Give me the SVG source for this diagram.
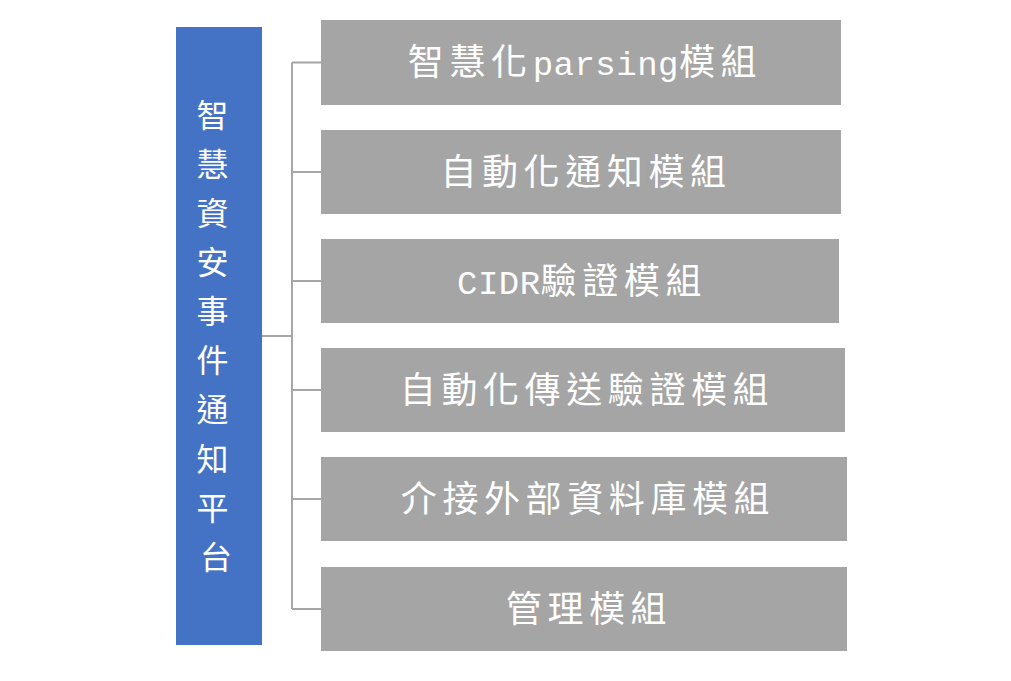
<svg xmlns="http://www.w3.org/2000/svg" width="1011" height="681" viewBox="0 0 1011 681">
<style>
.bg{fill:#ffffff}
.root{fill:#4472C4}
.mod{fill:#A5A5A5}
.conn{stroke:#A6A6A6;stroke-width:2;fill:none}
.lbl{font-family:"Noto Sans CJK TC","Liberation Serif",serif;font-size:36px;fill:#ffffff;text-anchor:middle;letter-spacing:5.6px}
.lat{font-family:"Liberation Mono",monospace;font-size:34px;letter-spacing:0.5px}
.vt{font-family:"Noto Sans CJK TC",serif;font-size:32px;fill:#ffffff;text-anchor:middle}
</style>
<rect class="bg" x="0" y="0" width="1011" height="681"/>
<g id="connectors">
<path class="conn" d="M262 336 H292 M292 62.5 V609 M292 62.5 H321 M292 172 H321 M292 281 H321 M292 390 H321 M292 499 H321 M292 609 H321"/>
</g>
<g id="root">
<rect class="root" x="176" y="27" width="86" height="618"/>
<text class="vt" x="216">
<tspan x="216" y="127">智</tspan>
<tspan x="216" y="176">慧</tspan>
<tspan x="216" y="225">資</tspan>
<tspan x="216" y="274">安</tspan>
<tspan x="216" y="323">事</tspan>
<tspan x="216" y="372">件</tspan>
<tspan x="216" y="421">通</tspan>
<tspan x="216" y="471">知</tspan>
<tspan x="216" y="520">平</tspan>
<tspan x="216" y="569">台</tspan>
</text>
</g>
<g id="m1">
<rect class="mod" x="321" y="20" width="520" height="85"/>
<text class="lbl" x="585" y="75">智慧化<tspan class="lat">parsing</tspan>模組</text>
</g>
<g id="m2">
<rect class="mod" x="321" y="130" width="520" height="84"/>
<text class="lbl" x="586" y="185">自動化通知模組</text>
</g>
<g id="m3">
<rect class="mod" x="321" y="239" width="518" height="84"/>
<text class="lbl" x="582" y="294"><tspan class="lat">CIDR</tspan>驗證模組</text>
</g>
<g id="m4">
<rect class="mod" x="321" y="348" width="524" height="84"/>
<text class="lbl" x="587" y="403">自動化傳送驗證模組</text>
</g>
<g id="m5">
<rect class="mod" x="321" y="457" width="526" height="84"/>
<text class="lbl" x="588" y="512">介接外部資料庫模組</text>
</g>
<g id="m6">
<rect class="mod" x="321" y="567" width="526" height="84"/>
<text class="lbl" x="589" y="622">管理模組</text>
</g>
</svg>
